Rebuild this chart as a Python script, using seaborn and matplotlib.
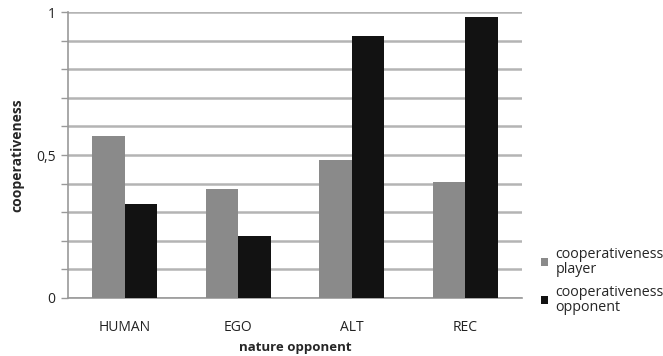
import matplotlib
matplotlib.use("Agg")
import matplotlib.pyplot as plt
import matplotlib.ticker as mticker
import seaborn as sns
import pandas as pd

# values
opponents = ["HUMAN", "EGO", "ALT", "REC"]
coop_player = [0.566, 0.381, 0.483, 0.406]
coop_opponent = [0.329, 0.217, 0.916, 0.983]
series_names = ["cooperativeness\nplayer", "cooperativeness\nopponent"]

df = pd.DataFrame({
    "nature opponent": opponents * 2,
    "cooperativeness": coop_player + coop_opponent,
    "series": [series_names[0]] * 4 + [series_names[1]] * 4,
})

sns.set_style("white")
plt.rcParams["font.family"] = ["Open Sans", "DejaVu Sans"]

fig = plt.figure(figsize=(6.63, 3.56), dpi=100)
ax = fig.add_axes([0.1026, 0.163, 0.6847, 0.803])

sns.barplot(data=df, x="nature opponent", y="cooperativeness", hue="series",
            palette=["#8a8a8a", "#121212"], width=0.57, saturation=1,
            edgecolor="none", ax=ax, zorder=3)

ax.set_ylim(0, 1)
ax.set_xlim(-0.5, 3.5)
ax.yaxis.set_major_locator(mticker.FixedLocator([0, 0.5, 1]))
ax.yaxis.set_major_formatter(mticker.FixedFormatter(["0", "0,5", "1"]))
ax.yaxis.set_minor_locator(mticker.MultipleLocator(0.1))
ax.grid(axis="y", which="both", color="#b4b4b4", linewidth=1.8, zorder=0)
ax.set_axisbelow(True)

ax.set_xticks([0, 1, 2, 3])
ax.set_xticklabels(opponents)
ax.set_xticks([-0.5, 0.5, 1.5, 2.5, 3.5], minor=True)
ax.tick_params(axis="x", which="major", length=0, labelsize=10, pad=16, colors="#222222")
ax.tick_params(axis="x", which="minor", length=4, width=1, color="#999999")
ax.tick_params(axis="y", which="both", left=True, length=5, width=1, color="#999999",
               labelsize=10, pad=4, labelcolor="#222222")

for side in ["top", "right"]:
    ax.spines[side].set_visible(False)
for side in ["left", "bottom"]:
    ax.spines[side].set_color("#999999")
    ax.spines[side].set_linewidth(1.2)

ax.set_xlabel("nature opponent", fontsize=9.5, fontweight="bold", labelpad=4)
ax.set_ylabel("cooperativeness", fontsize=10, fontweight="bold", labelpad=8)

leg = ax.legend(loc="center left", bbox_to_anchor=(1.03, 0.06), frameon=False,
                fontsize=10.3, handlelength=0.45, handleheight=0.45,
                handletextpad=0.55, labelspacing=0.55, borderaxespad=0.0)
for t in leg.get_texts():
    t.set_linespacing(1.0)

fig.savefig("out.png", dpi=100)
